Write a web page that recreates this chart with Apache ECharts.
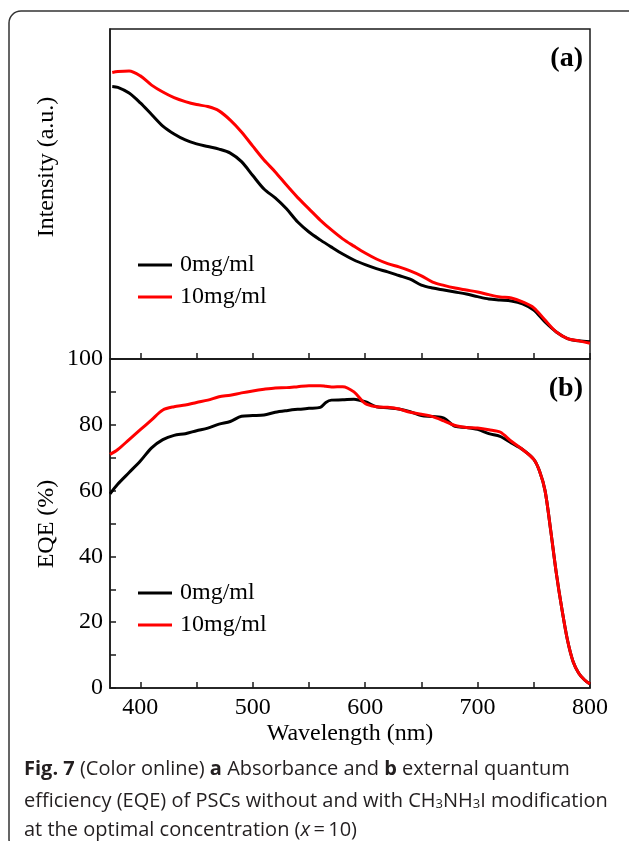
<!DOCTYPE html>
<html>
<head>
<meta charset="utf-8">
<script src="https://cdn.jsdelivr.net/npm/echarts@6/dist/echarts.min.js"></script>
<style>
html, body { margin: 0; padding: 0; background: #fff; }
#chart { width: 629px; height: 841px; }
</style>
</head>
<body>
<div id="chart"></div>
<script>
// (a) absorbance, arbitrary units (0-100 across the panel)
var waveA = [375, 380, 390, 400, 410, 420, 430, 440, 450, 460, 470, 480, 490, 500, 510, 520, 530, 540, 550, 560,
	570, 580, 590, 600, 610, 620, 630, 640, 650, 660, 670, 680, 690, 700, 710, 720, 730, 740, 750, 760, 770, 780, 790, 800];
var absBlack = [82.6, 82.3, 80.6, 77.6, 74.1, 70.6, 68.2, 66.4, 65.2, 64.4, 63.6, 62.4, 59.8, 55.6, 51.5, 48.8, 45.5, 41.5, 38.5, 36.1,
	33.9, 31.8, 30.0, 28.6, 27.4, 26.4, 25.3, 24.2, 22.4, 21.5, 20.9, 20.3, 19.7, 18.9, 18.2, 17.9, 17.6, 16.7, 14.8, 11.2, 8.2, 6.2, 5.5, 5.2];
var absRed = [86.8, 87.1, 87.3, 85.8, 83.0, 80.9, 79.2, 78.0, 77.1, 76.5, 75.2, 72.4, 68.8, 64.5, 60.3, 56.7, 52.7, 48.9, 45.5, 42.1,
	39.1, 36.4, 34.2, 32.1, 30.3, 28.9, 27.9, 26.7, 25.2, 23.3, 22.3, 21.5, 20.9, 20.3, 19.5, 18.8, 18.5, 17.3, 15.5, 11.8, 8.2, 6.2, 5.5, 4.8];

// (b) EQE (%)
var waveE = [373, 380, 390, 400, 410, 420, 430, 440, 450, 460, 470, 480, 490, 500, 510, 520, 530, 540, 550, 560, 565, 570, 580, 590,
	600, 610, 620, 630, 640, 650, 660, 670, 680, 690, 700, 710, 720, 730, 740, 750, 755, 760, 765, 770, 775, 780, 785, 790, 795, 800];
var eqeBlack = [59, 62, 65.5, 69, 73, 75.5, 76.8, 77.3, 78.2, 79, 80.2, 81, 82.6, 82.8, 83, 83.8, 84.3, 84.7, 85, 85.3, 86.8, 87.5, 87.6, 87.8,
	87, 85.5, 85.2, 84.8, 84, 82.8, 82.5, 82, 79.5, 79.2, 78.6, 77.3, 76.5, 74.5, 72.5, 69.5, 66, 60, 48, 35, 24, 14.5, 8, 4.5, 2.5, 1.2];
var eqeRed = [71, 72.5, 75.5, 78.5, 81.5, 84.5, 85.5, 86, 86.8, 87.5, 88.5, 89, 89.7, 90.3, 90.8, 91.2, 91.3, 91.6, 91.9, 91.9, 91.7, 91.5, 91.6, 90,
	86.5, 85.5, 85.3, 84.8, 83.8, 83.2, 82.5, 81.2, 79.8, 79.2, 79, 78.5, 77.8, 75, 72.5, 69.5, 66, 60, 48, 35, 24, 14.5, 8, 4.5, 2.5, 1.2];

var seriesNames = ['0mg/ml', '10mg/ml'];
var xLabels = [400, 500, 600, 700, 800];
var xTicks = [400, 450, 500, 550, 600, 650, 700, 750, 800];

var serif = 'Liberation Serif';
var axisColor = '#1a1a1a';

function zip(xs, ys) {
	var out = [];
	for (var i = 0; i < xs.length; i++) {
		out.push([xs[i], ys[i]]);
	}
	return out;
}

function lineSeries(name, color, xIdx, data) {
	return {
		name: name,
		type: 'line',
		xAxisIndex: xIdx,
		yAxisIndex: xIdx,
		data: data,
		smooth: 0.3,
		symbol: 'none',
		lineStyle: { color: color, width: 3 },
		itemStyle: { color: color }
	};
}

function legendAt(top) {
	return {
		data: seriesNames,
		orient: 'vertical',
		left: 138,
		top: top,
		padding: 0,
		icon: 'rect',
		itemWidth: 34,
		itemHeight: 3,
		itemGap: 8,
		selectedMode: false,
		textStyle: { fontFamily: serif, fontSize: 24, lineHeight: 24, color: '#000', padding: [0, 0, 0, 3] }
	};
}

var myChart = echarts.init(document.getElementById('chart'));

var option = {
	backgroundColor: '#fff',
	animation: false,
	grid: [
		{ left: 110, right: 39, top: 29, height: 330, show: true, borderColor: axisColor, borderWidth: 1.5 },
		{ left: 110, right: 39, top: 359, height: 329, show: true, borderColor: axisColor, borderWidth: 1.5 }
	],
	legend: [legendAt(253), legendAt(581)],
	xAxis: [
		{
			type: 'value', gridIndex: 0, min: 373, max: 800,
			axisLine: { lineStyle: { color: axisColor, width: 1.5 } },
			axisTick: { inside: true, length: 6, customValues: xTicks, lineStyle: { color: axisColor, width: 1.5 } },
			axisLabel: { show: false },
			splitLine: { show: false }
		},
		{
			type: 'value', gridIndex: 1, min: 373, max: 800,
			name: 'Wavelength (nm)', nameLocation: 'middle', nameGap: 34,
			nameTextStyle: { fontFamily: serif, fontSize: 24, color: '#000' },
			axisLine: { lineStyle: { color: axisColor, width: 1.5 } },
			axisTick: { inside: true, length: 6, customValues: xTicks, lineStyle: { color: axisColor, width: 1.5 } },
			axisLabel: { customValues: xLabels, fontFamily: serif, fontSize: 24, color: '#000', margin: 8 },
			splitLine: { show: false }
		}
	],
	yAxis: [
		{
			type: 'value', gridIndex: 0, min: 0, max: 100,
			axisLine: { show: true, lineStyle: { color: axisColor, width: 1.5 } },
			axisTick: { show: false },
			axisLabel: { show: false },
			splitLine: { show: false }
		},
		{
			type: 'value', gridIndex: 1, min: 0, max: 100, interval: 10,
			axisLine: { show: true, lineStyle: { color: axisColor, width: 1.5 } },
			axisTick: { inside: true, length: 6, lineStyle: { color: axisColor, width: 1.5 } },
			axisLabel: {
				fontFamily: serif, fontSize: 24, color: '#000', margin: 7,
				formatter: function (v) { return v % 20 === 0 ? String(v) : ''; }
			},
			splitLine: { show: false }
		}
	],
	series: [
		lineSeries(seriesNames[0], '#000000', 0, zip(waveA, absBlack)),
		lineSeries(seriesNames[1], '#ff0000', 0, zip(waveA, absRed)),
		lineSeries(seriesNames[0], '#000000', 1, zip(waveE, eqeBlack)),
		lineSeries(seriesNames[1], '#ff0000', 1, zip(waveE, eqeRed))
	],
	graphic: [
		{
			type: 'rect', z: -1, silent: true,
			shape: { x: 9, y: 11, width: 640, height: 840, r: 12 },
			style: { fill: 'none', stroke: '#333', lineWidth: 1.5 }
		},
		{
			type: 'text', x: 47, y: 167, rotation: Math.PI / 2,
			style: { text: 'Intensity (a.u.)', font: '24px "Liberation Serif"', fill: '#000', align: 'center', verticalAlign: 'middle' }
		},
		{
			type: 'text', x: 47, y: 524, rotation: Math.PI / 2,
			style: { text: 'EQE (%)', font: '24px "Liberation Serif"', fill: '#000', align: 'center', verticalAlign: 'middle' }
		},
		{
			type: 'text', x: 583, y: 59,
			style: { text: '(a)', font: 'bold 28px "Liberation Serif"', fill: '#000', align: 'right', verticalAlign: 'middle' }
		},
		{
			type: 'text', x: 583, y: 389,
			style: { text: '(b)', font: 'bold 28px "Liberation Serif"', fill: '#000', align: 'right', verticalAlign: 'middle' }
		},
		// caption
		{
			type: 'text', x: 24, y: 769,
			style: {
				text: '{b|Fig. 7} (Color online) {b|a} Absorbance and {b|b} external quantum',
				font: '20px "Open Sans"', fill: '#231f20', verticalAlign: 'middle',
				rich: { b: { fontWeight: 'bold', fontFamily: 'Open Sans', fontSize: 20, fill: '#231f20' } }
			}
		},
		{
			type: 'text', x: 24, y: 801,
			style: {
				text: 'efficiency (EQE) of PSCs without and with CH{s|3}NH{s|3}I modification',
				font: '20px "Open Sans"', fill: '#231f20', verticalAlign: 'middle',
				rich: { s: { fontFamily: 'Open Sans', fontSize: 13, verticalAlign: 'bottom', fill: '#231f20' } }
			}
		},
		{
			type: 'text', x: 24, y: 830,
			style: {
				text: 'at the optimal concentration ({i|x}\u2009=\u200910)',
				font: '20px "Open Sans"', fill: '#231f20', verticalAlign: 'middle',
				rich: { i: { fontStyle: 'italic', fontFamily: 'Open Sans', fontSize: 20, fill: '#231f20' } }
			}
		}
	]
};
myChart.setOption(option);
</script>
</body>
</html>
